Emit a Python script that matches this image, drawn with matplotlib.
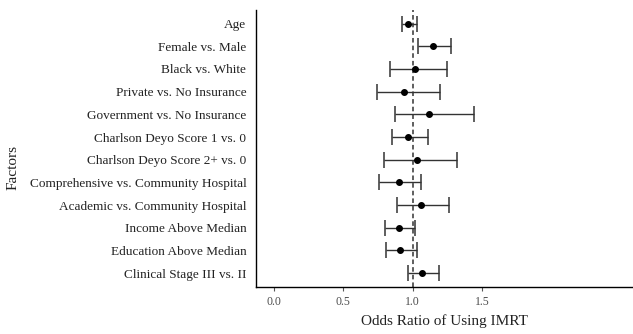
import matplotlib
matplotlib.use('Agg')
import matplotlib.pyplot as plt

# Fatores e odds ratios (estimativa, IC inferior, IC superior)
fatores = [
    'Age', 'Female vs. Male', 'Black vs. White', 'Private vs. No Insurance',
    'Government vs. No Insurance', 'Charlson Deyo Score 1 vs. 0',
    'Charlson Deyo Score 2+ vs. 0', 'Comprehensive vs. Community Hospital',
    'Academic vs. Community Hospital', 'Income Above Median',
    'Education Above Median', 'Clinical Stage III vs. II'
]
odds_ratio = [0.97, 1.15, 1.02, 0.94, 1.12, 0.97, 1.03, 0.90, 1.06, 0.90, 0.91, 1.07]
ic_inferior = [0.92, 1.04, 0.84, 0.74, 0.87, 0.85, 0.79, 0.76, 0.89, 0.80, 0.81, 0.97]
ic_superior = [1.03, 1.28, 1.25, 1.20, 1.44, 1.11, 1.32, 1.06, 1.26, 1.02, 1.03, 1.19]
ticks_x = [0.0, 0.5, 1.0, 1.5]

plt.rcParams['font.family'] = ['Liberation Serif', 'DejaVu Serif']

fig = plt.figure(figsize=(6.33, 3.34), dpi=100)
ax = fig.add_axes([0.4044, 0.1416, 0.5956, 0.8284])

n = len(fatores)
pos_y = list(range(n - 1, -1, -1))

# Linha de referência em OR = 1
ax.axvline(1.0, color='#333333', linestyle=(0, (3, 2)), linewidth=1.1, zorder=1)

erro_esq = [o - l for o, l in zip(odds_ratio, ic_inferior)]
erro_dir = [h - o for o, h in zip(odds_ratio, ic_superior)]
ax.errorbar(odds_ratio, pos_y, xerr=[erro_esq, erro_dir], fmt='none',
            ecolor='#333333', elinewidth=1.0, capsize=5.8, capthick=1.1, zorder=2)
ax.plot(odds_ratio, pos_y, 'o', color='black', markersize=4.0, zorder=3)

ax.set_xlim(-0.13, 2.59)
ax.set_ylim(-0.6, n - 1 + 0.6)
ax.set_xticks(ticks_x)
ax.set_xticklabels([f'{t:.1f}' for t in ticks_x], fontsize=8.5, color='#4d4d4d')
ax.set_yticks(pos_y)
ax.set_yticklabels(fatores, fontsize=9.5, color='#222222')
ax.tick_params(axis='y', length=0, pad=7)
ax.tick_params(axis='x', length=3, color='#555555', pad=4)

for lado in ['top', 'right']:
    ax.spines[lado].set_visible(False)
ax.spines['left'].set_linewidth(1.0)
ax.spines['bottom'].set_linewidth(1.0)

ax.set_xlabel('Odds Ratio of Using IMRT', fontsize=11, color='#222222', labelpad=4.5)
fig.text(0.02, 0.5, 'Factors', rotation=90, va='center', ha='center',
         fontsize=11, color='#222222')

fig.savefig('out.png', dpi=100)
